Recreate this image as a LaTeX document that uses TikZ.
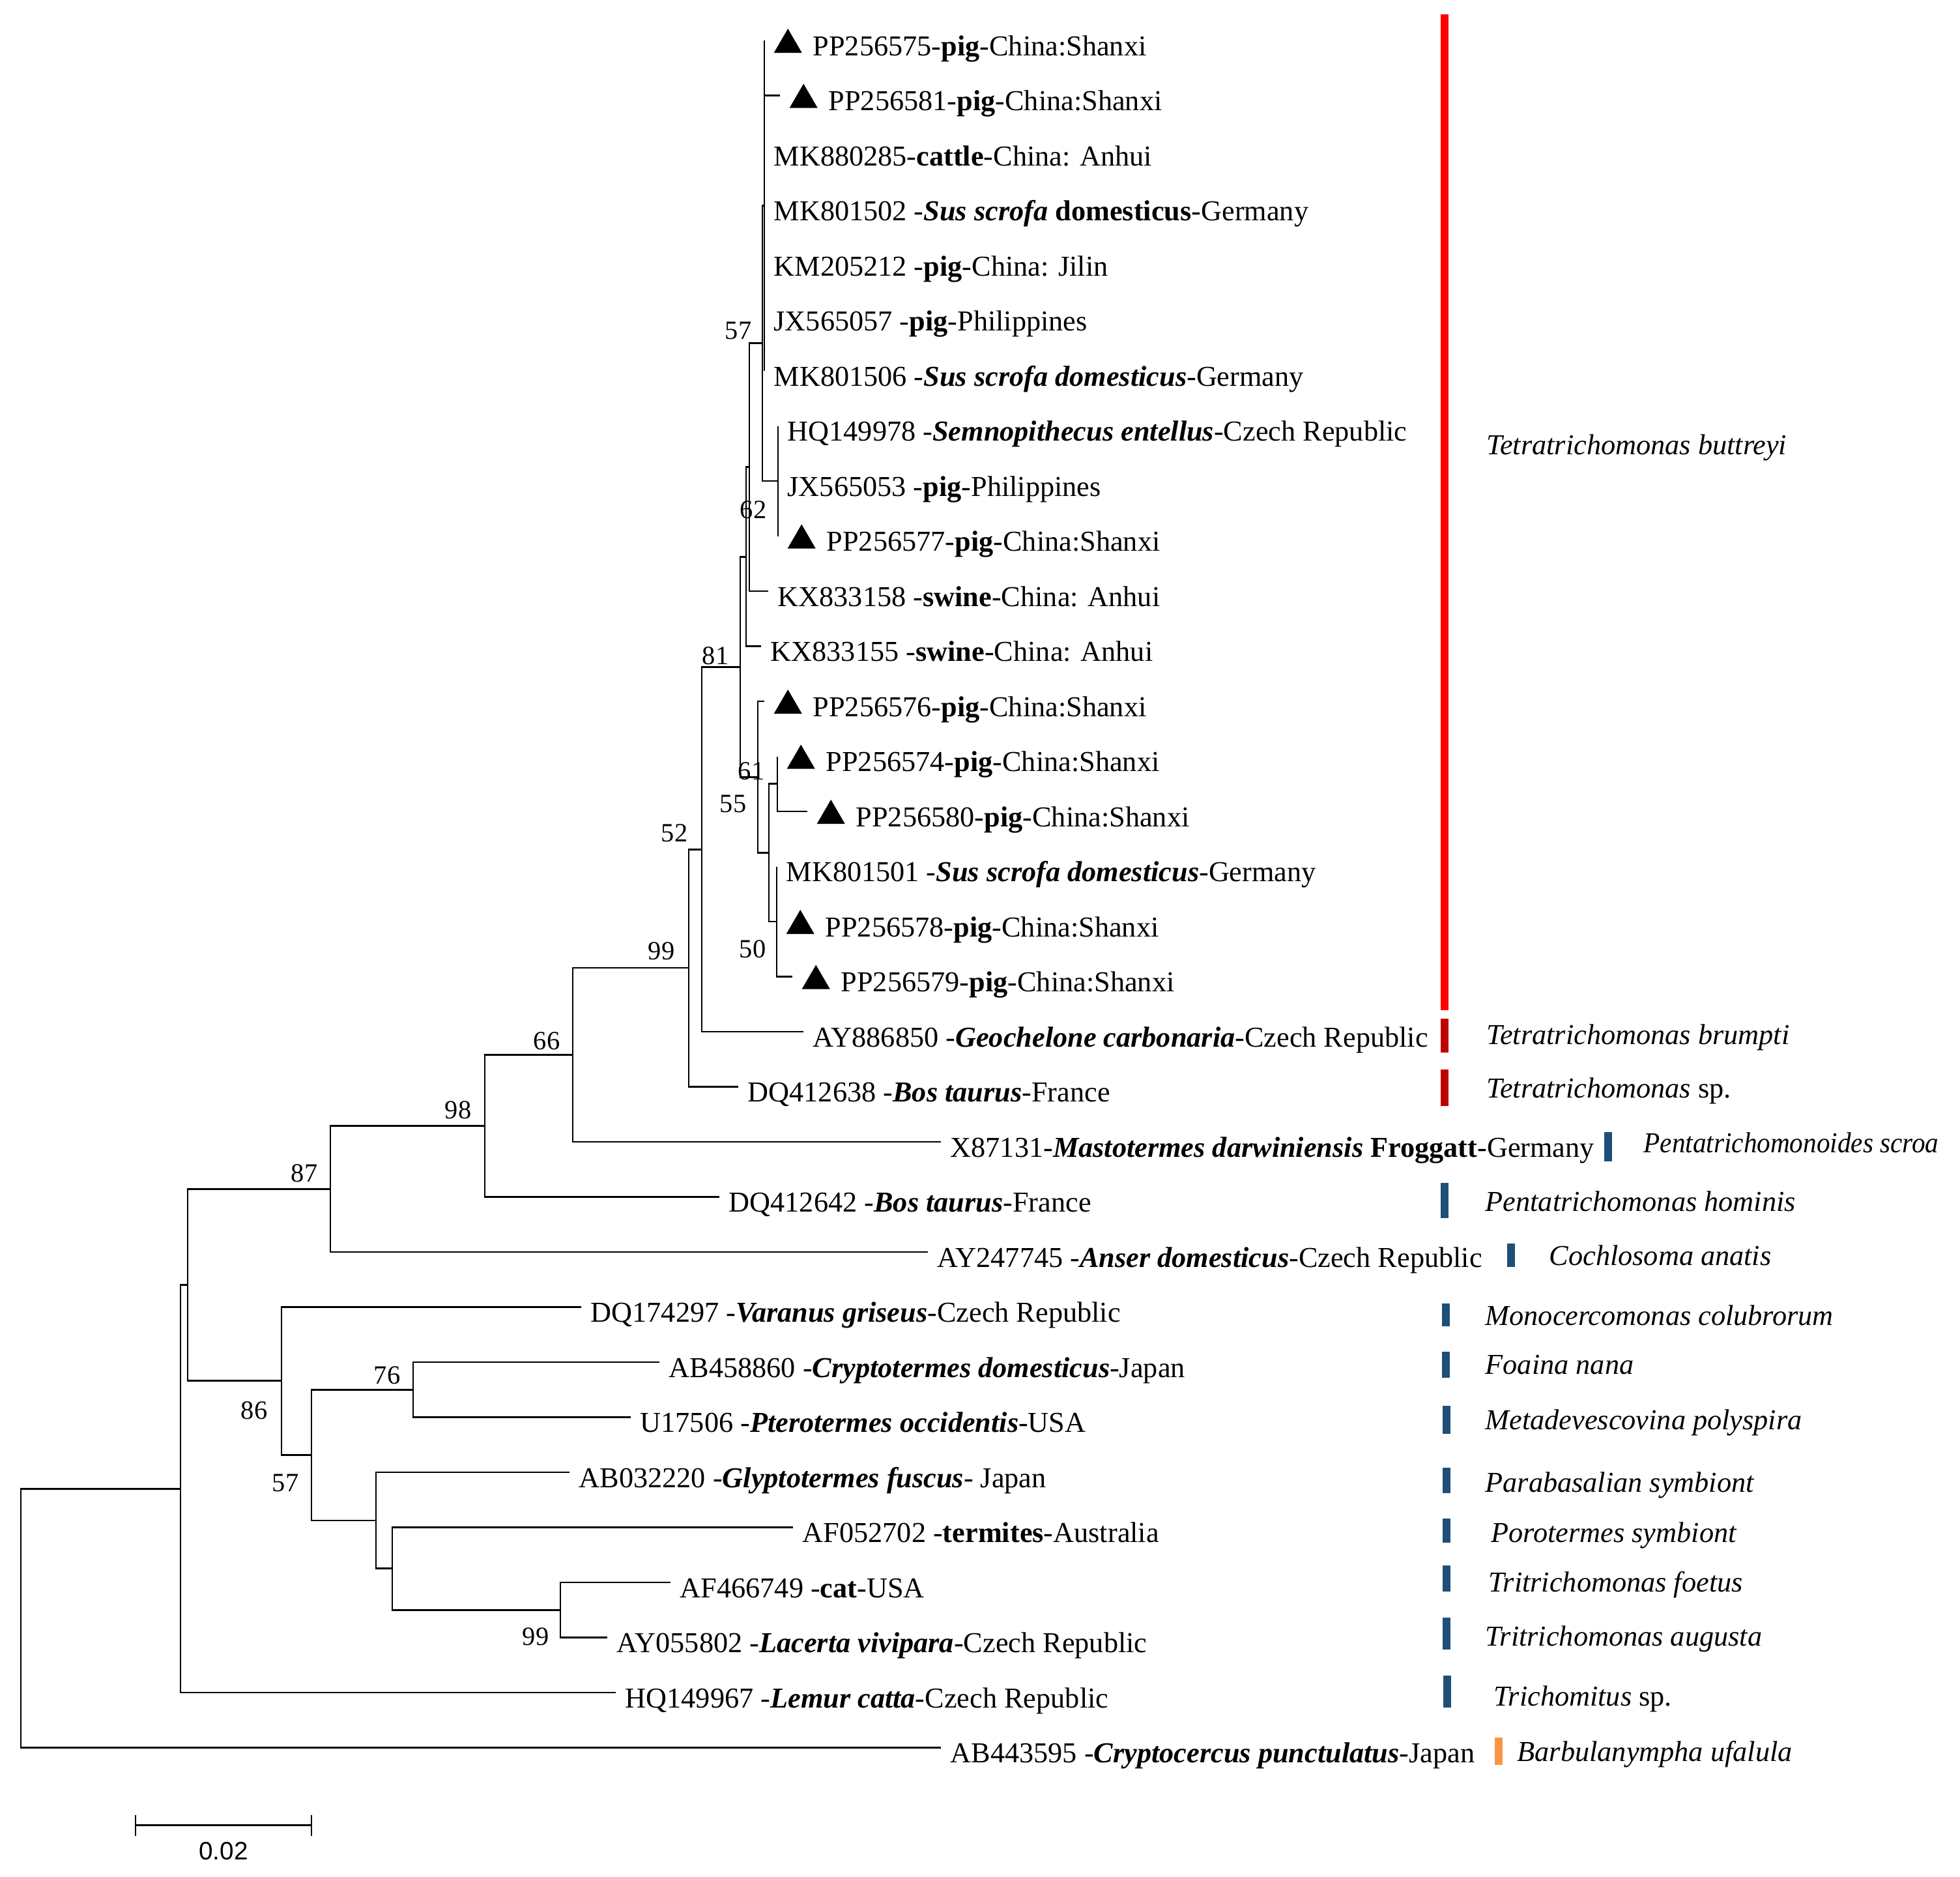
\documentclass[tikz,border=0pt]{standalone}
\usepackage{fontspec}
\setmainfont{Liberation Serif}
\setsansfont{Liberation Sans}
\usepackage{tikz}

\definecolor{cladeRed}{RGB}{255,0,0}
\definecolor{cladeDarkRed}{RGB}{192,0,0}
\definecolor{cladeBlue}{RGB}{31,78,121}
\definecolor{cladeOrange}{RGB}{247,150,70}

\newcommand{\bi}[1]{\textbf{\textit{#1}}}
\newcommand{\tri}{\tikz[baseline=0pt]\fill (0,0.4mm) -- (4.3mm,0.4mm) -- (2.15mm,4.1mm) -- cycle;\hspace{1.7mm}}

\tikzset{%
  % Specifications for style of nodes:
          leaf/.style = {anchor=west, inner xsep=1.4mm, inner ysep=0pt,
                         text height=13.1pt, text depth=0pt,
                         font=\fontsize{12.6}{14}\selectfont},
         clade/.style = {anchor=west, inner sep=0pt,
                         text height=8.3pt, text depth=0pt,
                         font=\fontsize{12.6}{14}\selectfont\itshape},
          boot/.style = {inner sep=0pt, font=\fontsize{11.5}{13}\selectfont},
        branch/.style = {draw=black, line width=0.8pt},
           bar/.style = {line width=1.25mm},
}

\begin{document}
\begin{tikzpicture}[x=0.1mm, y=-8.45mm]
\useasboundingbox (0,-0.733728) rectangle (3008,33.349112);

% inner nodes of the tree
\coordinate (root) at (32,28.65);
\coordinate (G)  at (277,26.3);
\coordinate (H)  at (288,22.6);
\coordinate (O)  at (507,20.855);
\coordinate (N)  at (744,19.71);
\coordinate (M)  at (879,18.42);
\coordinate (L)  at (1057,16.84);
\coordinate (F)  at (1077,14.69);
\coordinate (D)  at (1136,11.375);
\coordinate (Nb) at (1145,9.375);
\coordinate (A)  at (1150,7.75);
\coordinate (B)  at (1170,5.5);
\coordinate (Bb) at (1173,3);
\coordinate (C)  at (1194,8);
\coordinate (E)  at (1163,13.375);
\coordinate (I)  at (1180,14.75);
\coordinate (J)  at (1193,13.5);
\coordinate (K)  at (1192,16);
\coordinate (P)  at (432,24.34);
\coordinate (Q)  at (478,25.69);
\coordinate (R)  at (634,24.5);
\coordinate (S)  at (577,26.875);
\coordinate (T)  at (602,27.75);
\coordinate (U)  at (860,28.5);

% leaves
\node (PP256575) [leaf] at (1173,0)  {\tri PP256575-\textbf{pig}-China:Shanxi};
\node (PP256581) [leaf] at (1197,1)  {\tri PP256581-\textbf{pig}-China:Shanxi};
\node (MK880285) [leaf] at (1173,2)  {MK880285-\textbf{cattle}-China: Anhui};
\node (MK801502) [leaf] at (1173,3)  {MK801502 -\bi{Sus scrofa} \textbf{domesticus}-Germany};
\node (KM205212) [leaf] at (1173,4)  {KM205212 -\textbf{pig}-China: Jilin};
\node (JX565057) [leaf] at (1173,5)  {JX565057 -\textbf{pig}-Philippines};
\node (MK801506) [leaf] at (1173,6)  {MK801506 -\bi{Sus scrofa domesticus}-Germany};
\node (HQ149978) [leaf] at (1194,7)  {HQ149978 -\bi{Semnopithecus entellus}-Czech Republic};
\node (JX565053) [leaf] at (1194,8)  {JX565053 -\textbf{pig}-Philippines};
\node (PP256577) [leaf] at (1194,9)  {\tri PP256577-\textbf{pig}-China:Shanxi};
\node (KX833158) [leaf] at (1179,10) {KX833158 -\textbf{swine}-China: Anhui};
\node (KX833155) [leaf] at (1168,11) {KX833155 -\textbf{swine}-China: Anhui};
\node (PP256576) [leaf] at (1173,12) {\tri PP256576-\textbf{pig}-China:Shanxi};
\node (PP256574) [leaf] at (1193,13) {\tri PP256574-\textbf{pig}-China:Shanxi};
\node (PP256580) [leaf] at (1239,14) {\tri PP256580-\textbf{pig}-China:Shanxi};
\node (MK801501) [leaf] at (1192,15) {MK801501 -\bi{Sus scrofa domesticus}-Germany};
\node (PP256578) [leaf] at (1192,16) {\tri PP256578-\textbf{pig}-China:Shanxi};
\node (PP256579) [leaf] at (1216,17) {\tri PP256579-\textbf{pig}-China:Shanxi};
\node (AY886850) [leaf] at (1233,18) {AY886850 -\bi{Geochelone carbonaria}-Czech Republic};
\node (DQ412638) [leaf] at (1133,19) {DQ412638 -\bi{Bos taurus}-France};
\node (X87131)   [leaf] at (1444,20) {X87131-\bi{Mastotermes darwiniensis} \textbf{Froggatt}-Germany};
\node (DQ412642) [leaf] at (1104,21) {DQ412642 -\bi{Bos taurus}-France};
\node (AY247745) [leaf] at (1424,22) {AY247745 -\bi{Anser domesticus}-Czech Republic};
\node (DQ174297) [leaf] at (892,23)  {DQ174297 -\bi{Varanus griseus}-Czech Republic};
\node (AB458860) [leaf] at (1012,24) {AB458860 -\bi{Cryptotermes domesticus}-Japan};
\node (U17506)   [leaf] at (968,25)  {U17506 -\bi{Pterotermes occidentis}-USA};
\node (AB032220) [leaf] at (874,26)  {AB032220 -\bi{Glyptotermes fuscus}- Japan};
\node (AF052702) [leaf] at (1217,27) {AF052702 -\textbf{termites}-Australia};
\node (AF466749) [leaf] at (1029,28) {AF466749 -\textbf{cat}-USA};
\node (AY055802) [leaf] at (932,29)  {AY055802 -\bi{Lacerta vivipara}-Czech Republic};
\node (HQ149967) [leaf] at (945,30)  {HQ149967 -\bi{Lemur catta}-Czech Republic};
\node (AB443595) [leaf] at (1444,31) {AB443595 -\bi{Cryptocercus punctulatus}-Japan};

% branches
\draw[branch] (root) |- (G);
\draw[branch] (root) |- (AB443595.west);
\draw[branch] (G) |- (H);
\draw[branch] (G) |- (HQ149967.west);
\draw[branch] (H) |- (O);
\draw[branch] (H) |- (P);
\draw[branch] (O) |- (N);
\draw[branch] (O) |- (AY247745.west);
\draw[branch] (N) |- (M);
\draw[branch] (N) |- (DQ412642.west);
\draw[branch] (M) |- (L);
\draw[branch] (M) |- (X87131.west);
\draw[branch] (L) |- (F);
\draw[branch] (L) |- (DQ412638.west);
\draw[branch] (F) |- (D);
\draw[branch] (F) |- (AY886850.west);
\draw[branch] (D) |- (Nb);
\draw[branch] (D) |- (E);
\draw[branch] (Nb) |- (A);
\draw[branch] (Nb) |- (KX833155.west);
\draw[branch] (A) |- (B);
\draw[branch] (A) |- (KX833158.west);
\draw[branch] (B) |- (Bb);
\draw[branch] (B) |- (C);
\draw[branch] (Bb) |- (PP256575.west);
\draw[branch] (Bb) |- (PP256581.west);
\draw[branch] (Bb) |- (MK880285.west);
\draw[branch] (Bb) |- (MK801502.west);
\draw[branch] (Bb) |- (KM205212.west);
\draw[branch] (Bb) |- (JX565057.west);
\draw[branch] (Bb) |- (MK801506.west);
\draw[branch] (C) |- (HQ149978.west);
\draw[branch] (C) |- (JX565053.west);
\draw[branch] (C) |- (PP256577.west);
\draw[branch] (E) |- (PP256576.west);
\draw[branch] (E) |- (I);
\draw[branch] (I) |- (J);
\draw[branch] (I) |- (K);
\draw[branch] (J) |- (PP256574.west);
\draw[branch] (J) |- (PP256580.west);
\draw[branch] (K) |- (MK801501.west);
\draw[branch] (K) |- (PP256578.west);
\draw[branch] (K) |- (PP256579.west);
\draw[branch] (P) |- (DQ174297.west);
\draw[branch] (P) |- (Q);
\draw[branch] (Q) |- (R);
\draw[branch] (Q) |- (S);
\draw[branch] (R) |- (AB458860.west);
\draw[branch] (R) |- (U17506.west);
\draw[branch] (S) |- (AB032220.west);
\draw[branch] (S) |- (T);
\draw[branch] (T) |- (AF052702.west);
\draw[branch] (T) |- (U);
\draw[branch] (U) |- (AF466749.west);
\draw[branch] (U) |- (AY055802.west);

% bootstrap values
\node (bs57a) [boot] at (1133,5.27)  {57};
\node (bs62)  [boot] at (1156,8.53)  {62};
\node (bs81)  [boot] at (1098,11.17) {81};
\node (bs61)  [boot] at (1153,13.27) {61};
\node (bs55)  [boot] at (1125,13.86) {55};
\node (bs52)  [boot] at (1035,14.40) {52};
\node (bs50)  [boot] at (1155,16.50) {50};
\node (bs99a) [boot] at (1015,16.54) {99};
\node (bs66)  [boot] at (839,18.17)  {66};
\node (bs98)  [boot] at (703,19.42)  {98};
\node (bs87)  [boot] at (467,20.57)  {87};
\node (bs76)  [boot] at (594,24.24)  {76};
\node (bs86)  [boot] at (390,24.88)  {86};
\node (bs57b) [boot] at (438,26.20)  {57};
\node (bs99b) [boot] at (822,28.99)  {99};

% clade bars
\draw[bar, cladeRed]     (2217,-0.473) -- (2217,17.61);
\draw[bar, cladeDarkRed] (2217,17.76) -- (2217,18.38);
\draw[bar, cladeDarkRed] (2217,18.69) -- (2217,19.35);
\draw[bar, cladeBlue]    (2468,19.82) -- (2468,20.36);
\draw[bar, cladeBlue]    (2217,20.75) -- (2217,21.38);
\draw[bar, cladeBlue]    (2319,21.85) -- (2319,22.27);
\draw[bar, cladeBlue]    (2219,22.93) -- (2219,23.35);
\draw[bar, cladeBlue]    (2219,23.81) -- (2219,24.28);
\draw[bar, cladeBlue]    (2220,24.79) -- (2220,25.30);
\draw[bar, cladeBlue]    (2220,25.92) -- (2220,26.38);
\draw[bar, cladeBlue]    (2220,26.84) -- (2220,27.28);
\draw[bar, cladeBlue]    (2220,27.69) -- (2220,28.17);
\draw[bar, cladeBlue]    (2220,28.64) -- (2220,29.22);
\draw[bar, cladeBlue]    (2221,29.69) -- (2221,30.27);
\draw[bar, cladeOrange]  (2300,30.82) -- (2300,31.31);

% clade names
\node (buttreyi)     [clade] at (2281,7.35)  {Tetratrichomonas buttreyi};
\node (brumpti)      [clade] at (2281,18.06) {Tetratrichomonas brumpti};
\node (tetraSp)      [clade] at (2281,19.03) {Tetratrichomonas {\upshape sp.}};
\node (scroa)        [clade] at (2522,20.02) {\scalebox{0.93}[1]{Pentatrichomonoides scroa}};
\node (hominis)      [clade] at (2279,21.09) {Pentatrichomonas hominis};
\node (anatis)       [clade] at (2377,22.07) {Cochlosoma anatis};
\node (colubrorum)   [clade] at (2279,23.16) {Monocercomonas colubrorum};
\node (foaina)       [clade] at (2279,24.05) {Foaina nana};
\node (polyspira)    [clade] at (2279,25.05) {Metadevescovina polyspira};
\node (parabasalian) [clade] at (2279,26.19) {Parabasalian symbiont};
\node (porotermes)   [clade] at (2288,27.10) {Porotermes symbiont};
\node (foetus)       [clade] at (2284,28.00) {Tritrichomonas foetus};
\node (augusta)      [clade] at (2279,28.98) {Tritrichomonas augusta};
\node (trichomitus)  [clade] at (2292,30.07) {Trichomitus {\upshape sp.}};
\node (ufalula)      [clade] at (2328,31.07) {Barbulanympha ufalula};

% scale bar
\coordinate (sbL) at (208,32.41);
\coordinate (sbR) at (478,32.41);
\draw[branch] (sbL) -- (sbR);
\draw[branch] (208,32.22) -- (208,32.60);
\draw[branch] (478,32.22) -- (478,32.60);
\node (scale) [font=\sffamily\fontsize{11}{12}\selectfont] at (343,32.88) {0.02};
\end{tikzpicture}
\end{document}
